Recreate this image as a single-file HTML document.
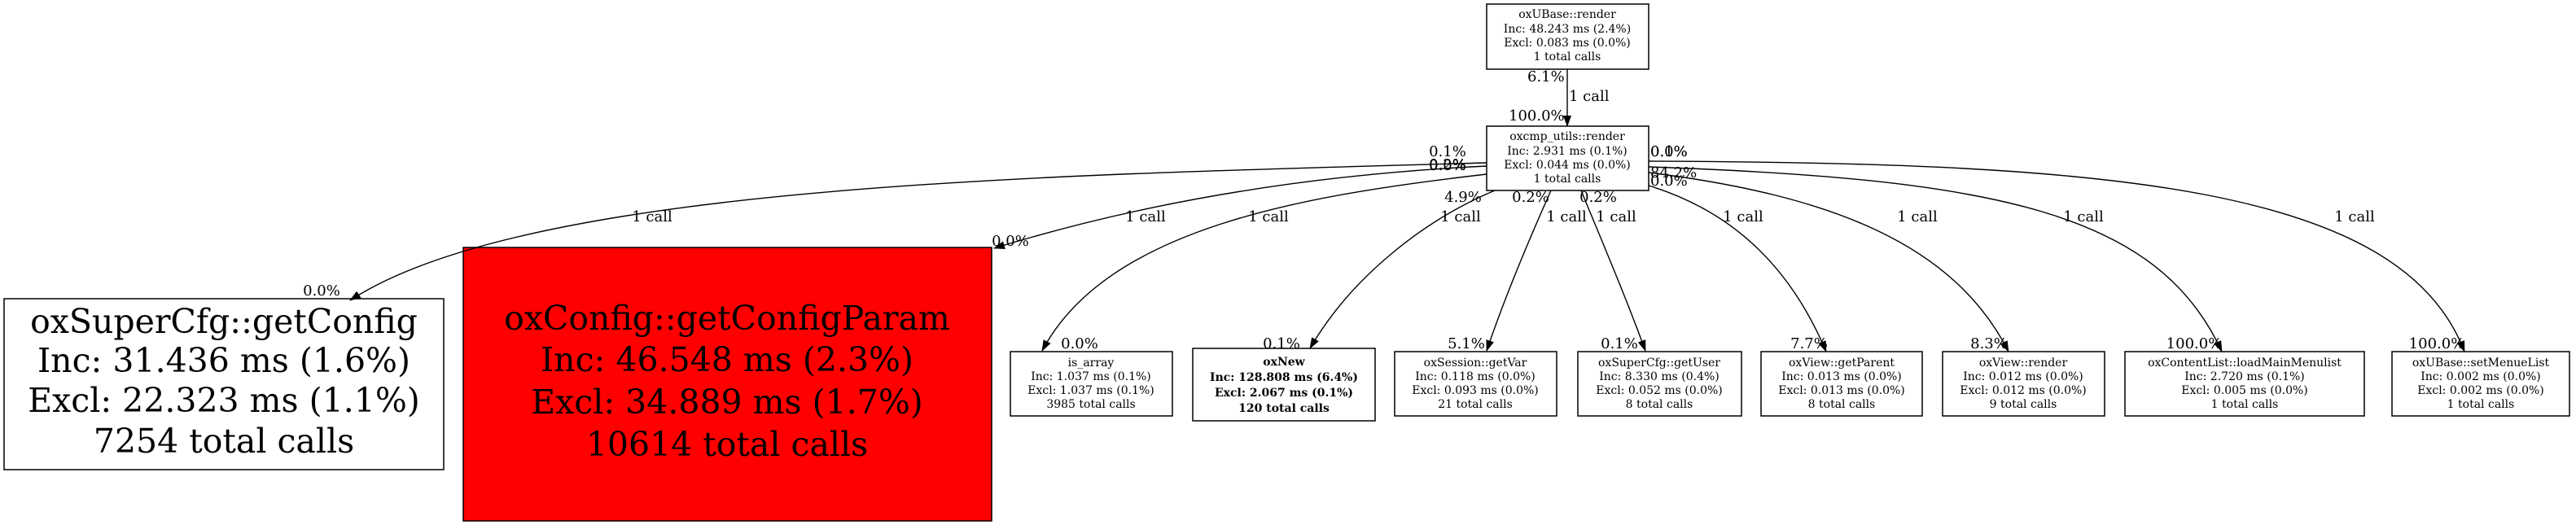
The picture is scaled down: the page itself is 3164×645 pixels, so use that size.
<!DOCTYPE html>
<html><head><meta charset="utf-8"><style>
html,body{margin:0;padding:0;background:#fff;}
svg{display:block;}
text{font-family:"DejaVu Serif","Liberation Serif",serif;fill:#000;}
.n{font-size:14px;text-anchor:middle;}
.e{font-size:18px;}
.b{font-size:41px;text-anchor:middle;}
</style></head><body>
<svg width="3164" height="645" viewBox="0 0 3164 645" xmlns="http://www.w3.org/2000/svg">
<defs><marker id="a" markerWidth="14" markerHeight="10" refX="13" refY="5" orient="auto" markerUnits="userSpaceOnUse"><path d="M0,0 L14,5 L0,10 z" fill="#000"/></marker></defs>
<g fill="none" stroke="#000" stroke-width="1.5">
<rect x="1826" y="5" width="199" height="80" fill="#fff"/>
<rect x="1826" y="155" width="199" height="79" fill="#fff"/>
<rect x="5" y="367" width="540" height="210" fill="#fff"/>
<rect x="569" y="304" width="649" height="336" fill="#ff0000"/>
<rect x="1241" y="432" width="199" height="79"/>
<rect x="1465" y="428" width="224" height="89"/>
<rect x="1713" y="432" width="199" height="79"/>
<rect x="1938" y="432" width="201" height="79"/>
<rect x="2163" y="432" width="198" height="79"/>
<rect x="2386" y="432" width="199" height="79"/>
<rect x="2610" y="432" width="294" height="79"/>
<rect x="2938" y="432" width="218" height="79"/>
</g>
<g fill="none" stroke="#000" stroke-width="1.4" marker-end="url(#a)">
<path d="M1925,85 L1925,155"/>
<path d="M1826,200 C1300,215 650,225 430,369"/>
<path d="M1826,204 C1600,215 1400,250 1221,305"/>
<path d="M1826,214 C1600,240 1360,280 1280,431"/>
<path d="M1836,234 C1750,270 1660,340 1609,428"/>
<path d="M1905,234 C1880,290 1850,360 1826,431"/>
<path d="M1942,234 C1965,290 1995,360 2021,431"/>
<path d="M2025,228 C2130,260 2200,330 2243,432"/>
<path d="M2025,212 C2250,240 2400,300 2467,432"/>
<path d="M2025,205 C2450,220 2650,260 2729,432"/>
<path d="M2025,198 C2600,200 2950,230 3027,432"/>
</g>
<text class="n" x="1925" y="22">oxUBase::render</text>
<text class="n" x="1925" y="40">Inc: 48.243 ms (2.4%)</text>
<text class="n" x="1925" y="57">Excl: 0.083 ms (0.0%)</text>
<text class="n" x="1925" y="74">1 total calls</text>
<text class="n" x="1925" y="172">oxcmp_utils::render</text>
<text class="n" x="1925" y="190">Inc: 2.931 ms (0.1%)</text>
<text class="n" x="1925" y="207">Excl: 0.044 ms (0.0%)</text>
<text class="n" x="1925" y="224">1 total calls</text>
<text class="b" x="275" y="409">oxSuperCfg::getConfig</text>
<text class="b" x="275" y="457">Inc: 31.436 ms (1.6%)</text>
<text class="b" x="275" y="506">Excl: 22.323 ms (1.1%)</text>
<text class="b" x="275" y="556">7254 total calls</text>
<text class="b" x="893" y="405">oxConfig::getConfigParam</text>
<text class="b" x="893" y="456">Inc: 46.548 ms (2.3%)</text>
<text class="b" x="893" y="508">Excl: 34.889 ms (1.7%)</text>
<text class="b" x="893" y="560">10614 total calls</text>
<g class="n">
<text class="n" x="1340" y="450">is_array</text><text class="n" x="1340" y="467">Inc: 1.037 ms (0.1%)</text><text class="n" x="1340" y="484">Excl: 1.037 ms (0.1%)</text><text class="n" x="1340" y="501">3985 total calls</text>
<text class="n" x="1577" y="449" font-weight="bold">oxNew</text><text class="n" x="1577" y="468" font-weight="bold">Inc: 128.808 ms (6.4%)</text><text class="n" x="1577" y="487" font-weight="bold">Excl: 2.067 ms (0.1%)</text><text class="n" x="1577" y="506" font-weight="bold">120 total calls</text>
<text class="n" x="1812" y="450">oxSession::getVar</text><text class="n" x="1812" y="467">Inc: 0.118 ms (0.0%)</text><text class="n" x="1812" y="484">Excl: 0.093 ms (0.0%)</text><text class="n" x="1812" y="501">21 total calls</text>
<text class="n" x="2038" y="450">oxSuperCfg::getUser</text><text class="n" x="2038" y="467">Inc: 8.330 ms (0.4%)</text><text class="n" x="2038" y="484">Excl: 0.052 ms (0.0%)</text><text class="n" x="2038" y="501">8 total calls</text>
<text class="n" x="2262" y="450">oxView::getParent</text><text class="n" x="2262" y="467">Inc: 0.013 ms (0.0%)</text><text class="n" x="2262" y="484">Excl: 0.013 ms (0.0%)</text><text class="n" x="2262" y="501">8 total calls</text>
<text class="n" x="2485" y="450">oxView::render</text><text class="n" x="2485" y="467">Inc: 0.012 ms (0.0%)</text><text class="n" x="2485" y="484">Excl: 0.012 ms (0.0%)</text><text class="n" x="2485" y="501">9 total calls</text>
<text class="n" x="2757" y="450">oxContentList::loadMainMenulist</text><text class="n" x="2757" y="467">Inc: 2.720 ms (0.1%)</text><text class="n" x="2757" y="484">Excl: 0.005 ms (0.0%)</text><text class="n" x="2757" y="501">1 total calls</text>
<text class="n" x="3047" y="450">oxUBase::setMenueList</text><text class="n" x="3047" y="467">Inc: 0.002 ms (0.0%)</text><text class="n" x="3047" y="484">Excl: 0.002 ms (0.0%)</text><text class="n" x="3047" y="501">1 total calls</text>
</g>
<g class="e">
<text class="e" x="1876" y="100">6.1%</text>
<text class="e" x="1927" y="124">1 call</text>
<text class="e" x="1853" y="148">100.0%</text>
<text class="e" x="1778" y="192" text-anchor="middle">0.1%</text>
<text class="e" x="1778" y="208" text-anchor="middle">0.2%</text>
<text class="e" x="1778" y="209" text-anchor="middle">0.0%</text>
<text class="e" x="1797" y="248" text-anchor="middle">4.9%</text>
<text class="e" x="1880" y="248" text-anchor="middle">0.2%</text>
<text class="e" x="1963" y="248" text-anchor="middle">0.2%</text>
<text class="e" x="2027" y="192">0.1%</text>
<text class="e" x="2027" y="192">0.0%</text>
<text class="e" x="2027" y="218">84.2%</text>
<text class="e" x="2027" y="228">0.0%</text>
<text class="e" x="801" y="272" text-anchor="middle">1 call</text>
<text class="e" x="1407" y="272" text-anchor="middle">1 call</text>
<text class="e" x="1558" y="272" text-anchor="middle">1 call</text>
<text class="e" x="1794" y="272" text-anchor="middle">1 call</text>
<text class="e" x="1924" y="272" text-anchor="middle">1 call</text>
<text class="e" x="1985" y="272" text-anchor="middle">1 call</text>
<text class="e" x="2141" y="272" text-anchor="middle">1 call</text>
<text class="e" x="2355" y="272" text-anchor="middle">1 call</text>
<text class="e" x="2559" y="272" text-anchor="middle">1 call</text>
<text class="e" x="2892" y="272" text-anchor="middle">1 call</text>
<text class="e" x="395" y="363" text-anchor="middle">0.0%</text>
<text class="e" x="1241" y="302" text-anchor="middle">0.0%</text>
<text class="e" x="1326" y="428" text-anchor="middle">0.0%</text>
<text class="e" x="1574" y="428" text-anchor="middle">0.1%</text>
<text class="e" x="1801" y="428" text-anchor="middle">5.1%</text>
<text class="e" x="1989" y="428" text-anchor="middle">0.1%</text>
<text class="e" x="2222" y="428" text-anchor="middle">7.7%</text>
<text class="e" x="2443" y="428" text-anchor="middle">8.3%</text>
<text class="e" x="2695" y="428" text-anchor="middle">100.0%</text>
<text class="e" x="2993" y="428" text-anchor="middle">100.0%</text>
</g>
</svg>
</body></html>
